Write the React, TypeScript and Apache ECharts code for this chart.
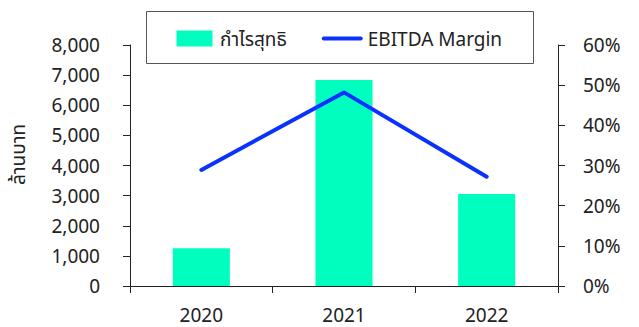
import React, { useEffect, useRef } from "react";
import * as echarts from "echarts";

const years = ["2020", "2021", "2022"];
const netProfit = [1250, 6840, 3050];
const ebitdaMargin = [28.9, 48.2, 27.2];
const leftTicks = [0, 1000, 2000, 3000, 4000, 5000, 6000, 7000, 8000];
const rightTicks = [0, 10, 20, 30, 40, 50, 60];

const FONT = "'Noto Sans', 'Noto Sans Thai', 'Noto Sans CJK SC', sans-serif";
const TEXT = "#222222";
const AXIS = "#222222";
const FS = 19;

export default function App() {
  const ref = useRef<HTMLDivElement>(null);
  useEffect(() => {
    if (!ref.current) return;
    const chart = echarts.init(ref.current, null, { renderer: "svg" });
    chart.setOption({
      animation: false,
      textStyle: { fontFamily: FONT },
      grid: { left: 125, right: 81, top: 45, bottom: 41 },
      graphic: [
        {
          type: "rect",
          left: 146,
          top: 11,
          shape: { width: 387, height: 52 },
          style: { fill: "#ffffff", stroke: "#555555", lineWidth: 1 },
          z: 0,
        },
      ],
      legend: {
        left: 176.5,
        top: 29,
        padding: 0,
        itemWidth: 41,
        itemHeight: 16,
        itemGap: 35,
        textStyle: { fontSize: FS, color: TEXT, fontFamily: FONT },
        data: [
          { name: "กำไรสุทธิ", icon: "path://M0,0 L36,0 L36,16 L0,16 Z" },
          { name: "EBITDA Margin", icon: "path://M2,0 L39,0 A2,2 0 0 1 39,4 L2,4 A2,2 0 0 1 2,0 Z" },
        ],
      },
      xAxis: {
        type: "category",
        data: years,
        axisLine: { lineStyle: { color: AXIS, width: 1 } },
        axisTick: { show: true, length: 7, alignWithLabel: false, lineStyle: { color: AXIS } },
        axisLabel: { fontSize: FS, color: TEXT, margin: 19 },
      },
      yAxis: [
        {
          type: "value",
          min: leftTicks[0],
          max: leftTicks[leftTicks.length - 1],
          interval: 1000,
          name: "ล้านบาท",
          nameLocation: "middle",
          nameRotate: 90,
          nameGap: 103,
          nameTextStyle: { fontSize: FS, color: TEXT, padding: [0, 0, 0, 22] },
          axisLine: { show: true, lineStyle: { color: AXIS, width: 1 } },
          axisTick: { show: true, length: 7, lineStyle: { color: AXIS } },
          splitLine: { show: false },
          axisLabel: {
            fontSize: FS,
            color: TEXT,
            margin: 30,
            formatter: (v: number) => v.toLocaleString("en-US"),
          },
        },
        {
          type: "value",
          min: rightTicks[0],
          max: rightTicks[rightTicks.length - 1],
          interval: 10,
          position: "right",
          axisLine: { show: true, lineStyle: { color: AXIS, width: 1 } },
          axisTick: { show: true, length: 7, lineStyle: { color: AXIS } },
          splitLine: { show: false },
          axisLabel: {
            fontSize: FS,
            color: TEXT,
            margin: 25,
            formatter: (v: number) => v + "%",
          },
        },
      ],
      series: [
        {
          name: "กำไรสุทธิ",
          type: "bar",
          data: netProfit,
          barWidth: "40%",
          itemStyle: { color: "#00FFBF" },
          yAxisIndex: 0,
        },
        {
          name: "EBITDA Margin",
          type: "line",
          data: ebitdaMargin,
          yAxisIndex: 1,
          symbol: "none",
          lineStyle: { color: "#0A32FF", width: 4, cap: "round", join: "round" },
          itemStyle: { color: "#0A32FF" },
          z: 3,
        },
      ],
    });
    return () => chart.dispose();
  }, []);
  return (
    <div
      ref={ref}
      style={{ position: "absolute", left: 0, top: 0, width: 639, height: 327 }}
    />
  );
}
